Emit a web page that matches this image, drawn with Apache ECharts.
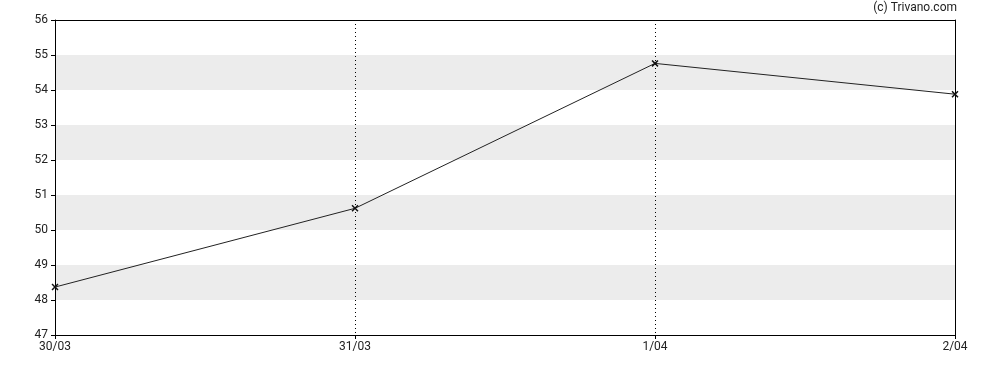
<!DOCTYPE html>
<html><head><meta charset="utf-8">
<script src="https://cdn.jsdelivr.net/npm/echarts@6/dist/echarts.min.js"></script>
<style>html,body{margin:0;padding:0;background:#fff}#c{width:988px;height:370px}</style>
</head><body><div id="c"></div>
<script>
const categories = ['30/03', '31/03', '1/04', '2/04'];
const values = [48.37, 50.62, 54.76, 53.88];
const yMin = 47, yMax = 56, yStep = 1;

const chart = echarts.init(document.getElementById('c'), null, {renderer: 'canvas'});
const frameAxis = {axisLine: {show: true, onZero: false, lineStyle: {color: '#000', width: 1}}, axisTick: {show: false}, axisLabel: {show: false}, splitLine: {show: false}};
chart.setOption({
  animation: false,
  backgroundColor: '#fff',
  textStyle: {fontFamily: 'Roboto'},
  grid: {left: 55, right: 33, top: 20, bottom: 35, show: false},
  graphic: [{type: 'text', right: 31, top: 2, style: {text: '(c) Trivano.com', font: '12px Roboto', fill: '#222'}}],
  xAxis: [{
    type: 'category', data: categories, boundaryGap: false,
    axisLine: {lineStyle: {color: '#000', width: 1}},
    axisTick: {show: true, length: 4, lineStyle: {color: '#000'}},
    axisLabel: {color: '#222', fontSize: 12, margin: 6, fontFamily: 'Roboto'},
    splitLine: {show: true, interval: function (i) { return i > 0 && i < categories.length - 1; },
      lineStyle: {color: '#000', type: [1, 3], width: 1}}
  }, Object.assign({type: 'category', data: categories, boundaryGap: false, position: 'top'}, frameAxis)],
  yAxis: [{
    type: 'value', min: yMin, max: yMax, interval: yStep,
    axisLine: {show: true, lineStyle: {color: '#000', width: 1}},
    axisTick: {show: true, length: 4, lineStyle: {color: '#000'}},
    axisLabel: {color: '#222', fontSize: 12, margin: 7, fontFamily: 'Roboto'},
    splitLine: {show: false},
    splitArea: {show: true, areaStyle: {color: ['#ffffff', '#ececec']}}
  }, Object.assign({type: 'value', min: yMin, max: yMax, interval: yStep, position: 'right'}, frameAxis)],
  series: [{
    type: 'line', data: values,
    lineStyle: {color: '#222', width: 1},
    symbol: 'path://M0,1.5L1.5,0L5,3.5L8.5,0L10,1.5L6.5,5L10,8.5L8.5,10L5,6.5L1.5,10L0,8.5L3.5,5Z',
    symbolSize: 7,
    itemStyle: {color: '#111'}
  }]
});
</script></body></html>
